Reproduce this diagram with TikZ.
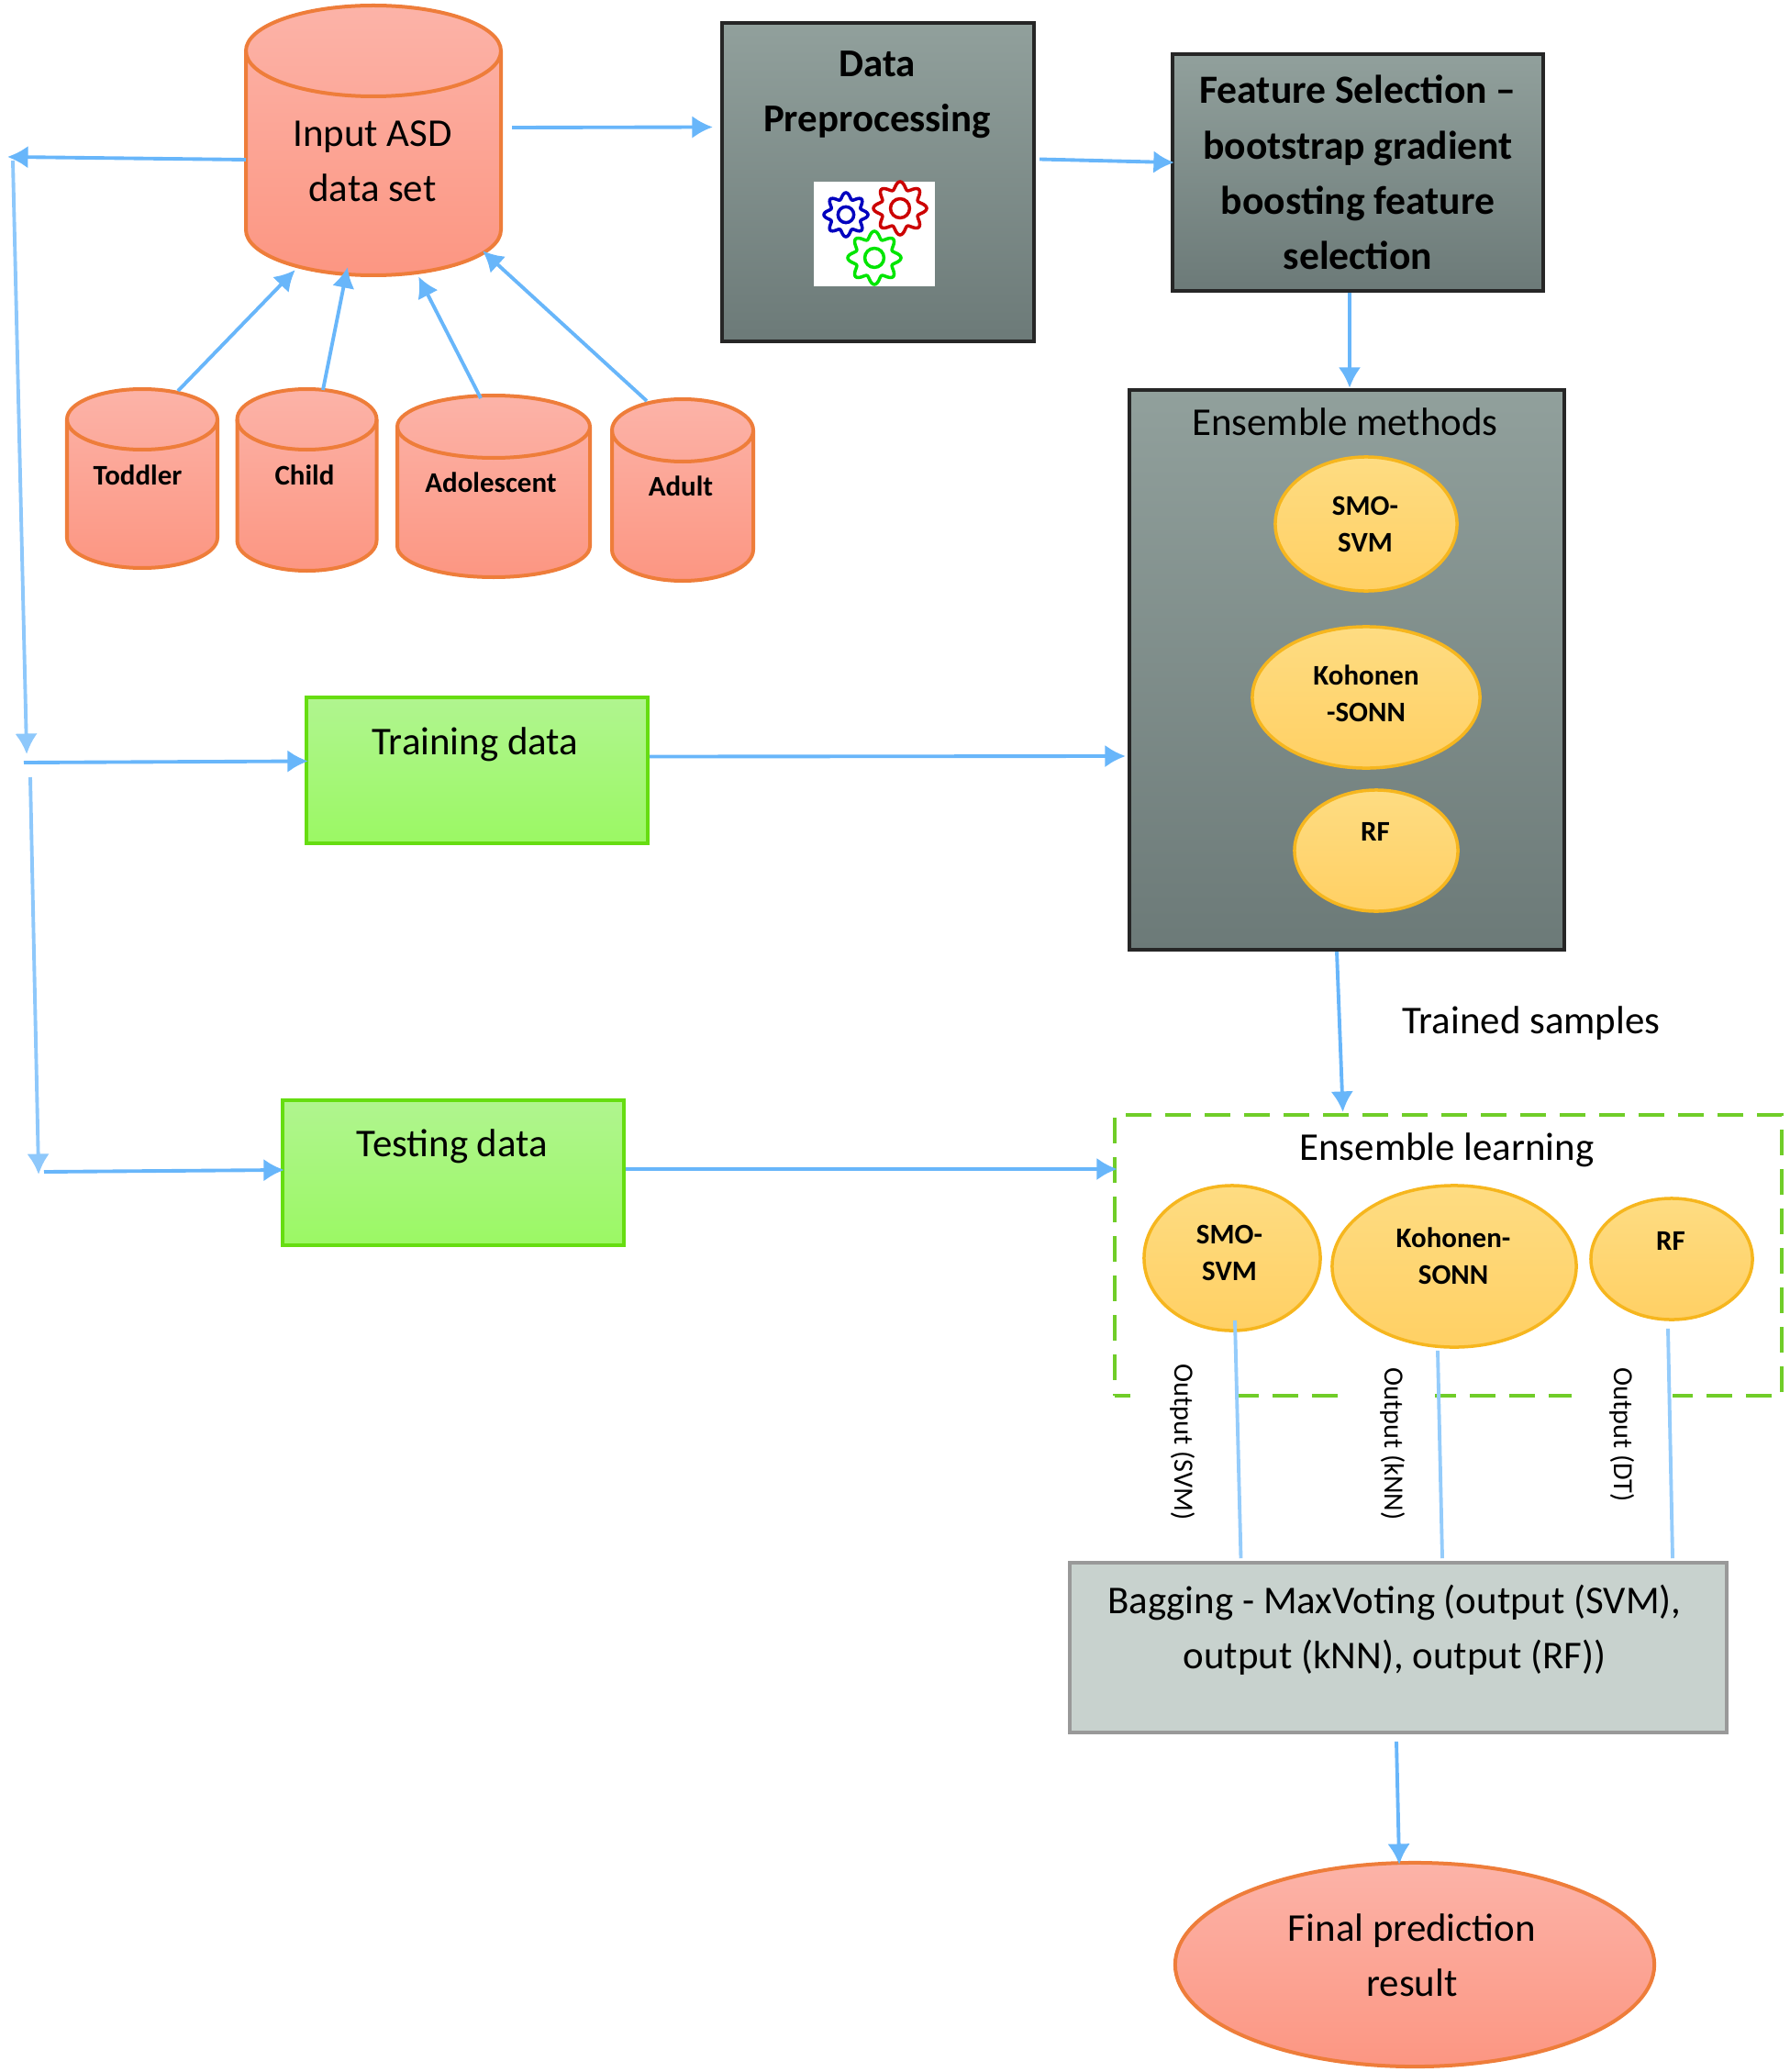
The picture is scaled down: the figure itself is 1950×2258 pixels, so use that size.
\documentclass[tikz,border=0pt]{standalone}
\usepackage{fontspec}
\setmainfont{Carlito}
\usetikzlibrary{shapes.geometric,arrows,arrows.meta,positioning,calc}
\definecolor{lblue}{RGB}{104,182,250}
\definecolor{dborange}{RGB}{238,125,58}
\definecolor{dbtop}{RGB}{252,179,168}
\definecolor{dbbot}{RGB}{252,150,130}
\definecolor{ovaltop}{RGB}{254,220,130}
\definecolor{ovalbot}{RGB}{255,208,100}
\definecolor{ovalline}{RGB}{246,182,30}
\definecolor{greytop}{RGB}{145,160,156}
\definecolor{greybot}{RGB}{108,122,120}
\definecolor{grntop}{RGB}{176,245,143}
\definecolor{grnbot}{RGB}{155,248,100}
\definecolor{grnline}{RGB}{102,221,17}
\definecolor{dashgrn}{RGB}{112,205,40}
\definecolor{pale}{RGB}{200,210,206}
\tikzstyle{arrow} = [line width=1.1pt, draw=lblue, ->, >={Latex[length=6.4pt,width=7pt]}, shorten >=-0.04cm]
\tikzset{
    dbase/.style={
        rectangle, minimum width=#1, inner sep=0pt
    },
    dbbody/.style={
        draw=dborange, line width=0.4mm,
        top color=dbtop, bottom color=dbbot
    },
    darkbox/.style={
        rectangle, draw=black!85, line width=0.4mm, inner sep=0pt,
        top color=greytop, bottom color=greybot
    },
    greenbox/.style={
        rectangle, draw=grnline, line width=0.4mm, inner sep=0pt,
        minimum width=3.72cm, minimum height=1.58cm,
        top color=grntop, bottom color=grnbot
    },
    oval/.style={
        ellipse, draw=ovalline, line width=0.35mm, inner sep=0pt,
        top color=ovaltop, bottom color=ovalbot
    },
    bigtext/.style={
        align=center, inner sep=0pt,
        font=\fontsize{12.2}{17.1}\selectfont
    },
    dbtext/.style={
        align=center, inner sep=0pt,
        font=\fontsize{8.8}{11.4}\selectfont\bfseries
    },
    outtext/.style={
        rotate=-90, fill=white, inner sep=0pt,
        minimum height=#1,
        font=\fontsize{8.6}{10}\selectfont
    },
    plainline/.style={
        line width=1.1pt, draw=lblue!70
    }
}
% name, x, y, x radius, y radius, half height
\newcommand{\dbcyl}[6]{
    \node[dbase={#4*0.02cm}, minimum height={#6*0.02cm}] (#1) at (#2,#3) {};
    \path[dbbody] (#2-#4,#3-#6+#5) -- (#2-#4,#3+#6-#5)
        arc[start angle=180, end angle=360, x radius={#4*0.01cm}, y radius={#5*0.01cm}]
        -- (#2+#4,#3-#6+#5)
        arc[start angle=0, end angle=180, x radius={#4*0.01cm}, y radius={#5*0.01cm}] -- cycle;
    \draw[draw=dborange, line width=0.4mm] (#2-#4,#3-#6+#5)
        arc[start angle=180, end angle=360, x radius={#4*0.01cm}, y radius={#5*0.01cm}];
}
\newcommand{\gearicon}[4]{
    \draw[#4, line width=0.35mm] plot[domain=0:360, samples=121]
        (\x:{#3*(0.86+0.14*cos(8*\x))}) -- cycle;
    \draw[#4, line width=0.35mm] (#1,#2) circle [radius=#3*0.36];
}

\begin{document}
\begin{tikzpicture}[x=0.01cm,y=-0.01cm]
    \useasboundingbox (0,0) rectangle (1950,2258);

    % data sets
    \dbcyl{input}{407}{153}{139}{49.5}{147}
    \dbcyl{toddler}{155}{521.5}{82}{33}{97.5}
    \dbcyl{child}{334.5}{523}{76}{33}{99}
    \dbcyl{adolescent}{538}{530}{105}{34}{99}
    \dbcyl{adult}{744}{534}{77}{34}{99}
    \node[bigtext] (inputtext) at (406,176) {Input ASD\\data set};
    \node[dbtext] (toddlertext) at (150,518) {Toddler};
    \node[dbtext] (childtext) at (332,518) {Child};
    \node[dbtext] (adolescenttext) at (535,526) {Adolescent};
    \node[dbtext] (adulttext) at (742,530) {Adult};

    % preprocessing
    \node[darkbox, minimum width=3.40cm, minimum height=3.47cm] (preproc) at (957,198.5) {};
    \node[bigtext, font=\fontsize{12.2}{17.1}\selectfont\bfseries] (preproctext) at (956,103) {Data\\Preprocessing};
    \node[rectangle, fill=white, minimum width=1.32cm, minimum height=1.14cm, inner sep=0pt] (gears) at (953,255) {};
    \begin{scope}[shift={(922,234)}]
        \gearicon{0}{0}{24}{blue!75!black}
    \end{scope}
    \begin{scope}[shift={(981,227)}]
        \gearicon{0}{0}{29}{red!80!black}
    \end{scope}
    \begin{scope}[shift={(953,281)}]
        \gearicon{0}{0}{29}{green!90!black}
    \end{scope}

    \node[darkbox, minimum width=4.04cm, minimum height=2.58cm, bigtext, font=\fontsize{12.4}{17.1}\selectfont\bfseries] (feature) at (1480,188)
        {Feature Selection --\\bootstrap gradient\\boosting feature\\selection};

    % ensemble methods
    \node[darkbox, minimum width=4.74cm, minimum height=6.10cm] (ensemble) at (1468,730) {};
    \node[bigtext] (ensembletext) at (1466,460) {Ensemble methods};
    \node[oval, minimum width=1.98cm, minimum height=1.46cm] (smoa) at (1489,571) {};
    \node[oval, minimum width=2.48cm, minimum height=1.54cm] (koha) at (1489,760) {};
    \node[oval, minimum width=1.78cm, minimum height=1.32cm] (rfa) at (1500,927) {};
    \node[dbtext] (smoatext) at (1488,571) {SMO-\\SVM};
    \node[dbtext] (kohatext) at (1489,756) {Kohonen\\-SONN};
    \node[dbtext] (rfatext) at (1499,906) {RF};

    % data splits
    \node[greenbox] (training) at (520,839.5) {};
    \node[bigtext] (trainingtext) at (518,811) {Training data};
    \node[greenbox] (testing) at (494,1278) {};
    \node[bigtext] (testingtext) at (493,1249) {Testing data};
    \node[bigtext] (trainedtext) at (1669,1115) {Trained samples};

    % ensemble learning
    \node[rectangle, draw=dashgrn, line width=0.4mm, dash pattern=on 0.28cm off 0.15cm,
        minimum width=7.27cm, minimum height=3.06cm, inner sep=0pt] (learnbox) at (1578.5,1368) {};
    \node[bigtext] (learntext) at (1577,1253) {Ensemble learning};
    \node[outtext=1.14cm, anchor=west] (outsvm) at (1289,1486) {Output (SVM)};
    \node[outtext=0.92cm, anchor=west] (outknn) at (1518,1490) {Output (kNN)};
    \node[outtext=1.10cm, anchor=west] (outdt) at (1768,1490) {Output (DT)};
    \node[oval, minimum width=1.92cm, minimum height=1.58cm] (smob) at (1343,1371) {};
    \node[oval, minimum width=2.66cm, minimum height=1.76cm] (kohb) at (1585,1380) {};
    \node[oval, minimum width=1.76cm, minimum height=1.32cm] (rfb) at (1822,1372) {};
    \node[dbtext] (smobtext) at (1340,1365) {SMO-\\SVM};
    \node[dbtext] (kohbtext) at (1584,1369) {Kohonen-\\SONN};
    \node[dbtext] (rfbtext) at (1821,1352) {RF};

    % voting and result
    \node[rectangle, draw=black!40, line width=0.35mm, fill=pale, minimum width=7.16cm, minimum height=1.85cm, inner sep=0pt] (bagging) at (1524,1795.5) {};
    \node[bigtext] (baggingtext) at (1520,1776) {Bagging - MaxVoting (output (SVM),\\output (kNN), output (RF))};
    \node[ellipse, draw=dborange, line width=0.4mm, top color=dbtop, bottom color=dbbot,
        minimum width=5.22cm, minimum height=2.22cm, inner sep=0pt] (final) at (1542,2141) {};
    \node[bigtext] (finaltext) at (1539,2131) {Final prediction\\result};

    % free ends on the left
    \coordinate (leftend) at (12,171);
    \coordinate (downone) at (14,175);
    \coordinate (downtwo) at (29,818);
    \coordinate (splitone) at (26,831);
    \coordinate (splittwo) at (33,847);
    \coordinate (splitend) at (42,1276);
    \coordinate (testin) at (48,1277);

    % connectors
    \draw[arrow] ($(input)+(151,-14)$) -- ($(preproc.west)+(-12,-60)$);
    \draw[arrow] ($(input)+(-139,21)$) -- (leftend);
    \draw[arrow, draw=lblue!75] (downone) -- (downtwo);
    \draw[arrow] (splitone) -- ($(training.west)+(0,-10)$);
    \draw[arrow, draw=lblue!75] (splittwo) -- (splitend);
    \draw[arrow] (testin) -- ($(testing.west)+(0,-3)$);
    \draw[arrow] ($(training.east)+(0,-15)$) -- ($(ensemble.west)+(-6,94)$);
    \draw[arrow] ($(testing.east)+(0,-4)$) -- ($(learnbox.west)+(1,-94)$);
    \draw[arrow] ($(preproc.east)+(4,-25)$) -- ($(feature.west)+(0,-11)$);
    \draw[arrow] ($(feature.south)+(-9,0)$) -- ($(ensemble.north)+(3,-4)$);
    \draw[arrow] ($(ensemble.south)+(-11,0)$) -- ($(learnbox.north)+(-115,-5)$);
    \draw[arrow] ($(bagging.south)+(-2,8)$) -- ($(final.north)+(-17,0)$);
    \draw[arrow] ($(toddler)+(39,-95.5)$) -- ($(input)+(-88,144)$);
    \draw[arrow] ($(child)+(17.5,-98)$) -- ($(input)+(-29,142)$);
    \draw[arrow] ($(adolescent)+(-14,-96)$) -- ($(input)+(51,152)$);
    \draw[arrow] ($(adult)+(-39,-97)$) -- ($(input)+(122,123)$);
    \draw[plainline] ($(smob.south)+(3,-13)$) -- ($(bagging.north)+(-171.5,-3)$);
    \draw[plainline] ($(kohb.south)+(-18,2)$) -- ($(bagging.north)+(48,-3)$);
    \draw[plainline] ($(rfb.south)+(-4,8)$) -- ($(bagging.north)+(299,-3)$);
\end{tikzpicture}
\end{document}
